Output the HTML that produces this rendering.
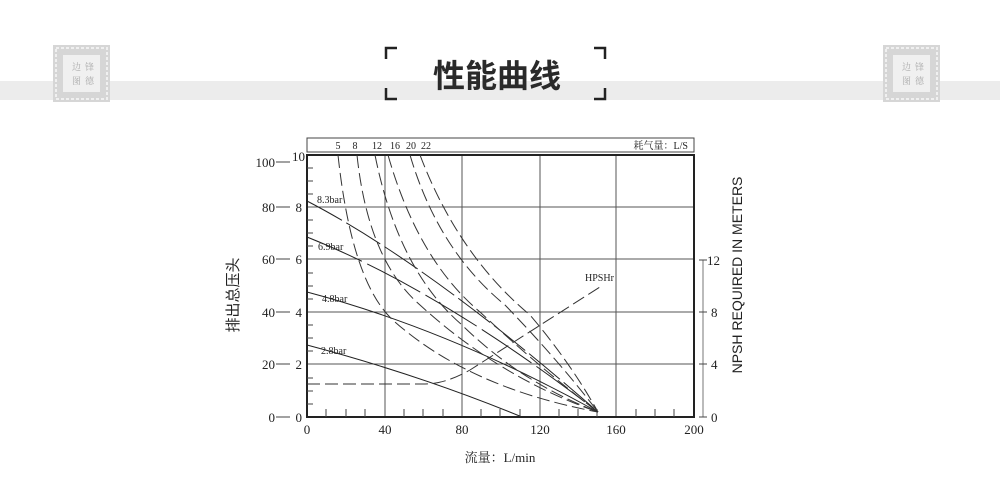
<!DOCTYPE html>
<html><head><meta charset="utf-8"><style>
body{margin:0;background:#fff;width:1000px;height:480px;overflow:hidden}
svg{display:block}
</style></head><body>
<svg width="1000" height="480" xmlns="http://www.w3.org/2000/svg" font-family="'Liberation Serif','Noto Serif CJK SC',serif">
<rect x="0" y="81" width="1000" height="19" fill="#ececec"/>
<g>
<rect x="53" y="45" width="57" height="57" fill="#d6d6d6"/>
<rect x="56" y="48" width="51" height="51" fill="none" stroke="#f0f0f0" stroke-width="2" stroke-dasharray="3 2"/>
<rect x="63" y="55" width="37" height="37" fill="#f0f0f0"/>
<text x="72" y="70" font-size="9" fill="#aaa">边</text><text x="85" y="70" font-size="9" fill="#aaa">锋</text>
<text x="72" y="84" font-size="9" fill="#aaa">图</text><text x="85" y="84" font-size="9" fill="#aaa">德</text>
</g>
<g>
<rect x="883" y="45" width="57" height="57" fill="#d6d6d6"/>
<rect x="886" y="48" width="51" height="51" fill="none" stroke="#f0f0f0" stroke-width="2" stroke-dasharray="3 2"/>
<rect x="893" y="55" width="37" height="37" fill="#f0f0f0"/>
<text x="902" y="70" font-size="9" fill="#aaa">边</text><text x="915" y="70" font-size="9" fill="#aaa">锋</text>
<text x="902" y="84" font-size="9" fill="#aaa">图</text><text x="915" y="84" font-size="9" fill="#aaa">德</text>
</g>
<g stroke="#222" stroke-width="2.5" fill="none">
<path d="M386,59 V48 H397"/><path d="M594,48 H605 V59"/>
<path d="M386,88 V99 H397"/><path d="M594,99 H605 V88"/>
</g>
<text x="497" y="87" font-size="32" font-weight="bold" text-anchor="middle" fill="#2a2a2a" font-family="'Noto Sans CJK SC',sans-serif">性能曲线</text>

<rect x="307" y="138" width="387" height="14" fill="none" stroke="#444" stroke-width="1"/>
<g font-size="10" text-anchor="middle" fill="#222">
<text x="338" y="149">5</text><text x="355" y="149">8</text><text x="377" y="149">12</text><text x="395" y="149">16</text><text x="411" y="149">20</text><text x="426" y="149">22</text>
<text x="688" y="149" text-anchor="end">耗气量：L/S</text>
</g>
<g stroke="#555" stroke-width="1">
<line x1="385" y1="155" x2="385" y2="417"/><line x1="462" y1="155" x2="462" y2="417"/>
<line x1="540" y1="155" x2="540" y2="417"/><line x1="616" y1="155" x2="616" y2="417"/>
<line x1="307" y1="207" x2="694" y2="207"/><line x1="307" y1="259" x2="694" y2="259"/>
<line x1="307" y1="312" x2="694" y2="312"/><line x1="307" y1="364" x2="694" y2="364"/>
</g>
<rect x="307" y="155" width="387" height="262" fill="none" stroke="#222" stroke-width="2"/>
<g stroke="#444" stroke-width="1">
<path d="M326,417v-8M346,417v-8M365,417v-8M404,417v-8M423,417v-8M443,417v-8M481,417v-8M500,417v-8M520,417v-8M559,417v-8M578,417v-8M597,417v-8M636,417v-8M655,417v-8M674,417v-8"/>
<path d="M307,404h6M307,391h6M307,378h6M307,351h6M307,338h6M307,325h6M307,299h6M307,286h6M307,273h6M307,246h6M307,233h6M307,220h6M307,194h6M307,181h6M307,168h6"/>
</g>
<g stroke="#444"><path d="M276,417h14M276,364h14M276,312h14M276,259h14M276,207h14M276,162h14"/></g>
<g font-size="13" text-anchor="end" fill="#222">
<text x="275" y="422">0</text><text x="275" y="369">20</text><text x="275" y="317">40</text><text x="275" y="264">60</text><text x="275" y="212">80</text><text x="275" y="167">100</text>
<text x="302" y="422">0</text><text x="302" y="369">2</text><text x="302" y="317">4</text><text x="302" y="264">6</text><text x="302" y="212">8</text><text x="305" y="161">10</text>
</g>
<g font-size="13" text-anchor="middle" fill="#222">
<text x="307" y="434">0</text><text x="385" y="434">40</text><text x="462" y="434">80</text><text x="540" y="434">120</text><text x="616" y="434">160</text><text x="694" y="434">200</text>
</g>
<line x1="703" y1="260" x2="703" y2="417" stroke="#777"/>
<g stroke="#444"><path d="M699,417h8M699,364h8M699,312h8M699,260h8"/></g>
<g font-size="13" fill="#222">
<text x="711" y="422">0</text><text x="711" y="369">4</text><text x="711" y="317">8</text><text x="707" y="265">12</text>
</g>
<text transform="translate(742,275) rotate(-90)" font-size="14" text-anchor="middle" font-family="'Liberation Sans',sans-serif" fill="#222">NPSH REQUIRED IN METERS</text>
<text transform="translate(238,295) rotate(-90)" font-size="15" text-anchor="middle" fill="#222" font-family="'Noto Sans CJK SC',sans-serif">排出总压头</text>
<text x="500" y="462" font-size="13" text-anchor="middle" fill="#222">流量：L/min</text>

<g fill="none" stroke="#222" stroke-width="1">
<path d="M307,201 Q430,265 598,412" stroke-dasharray="40 5"/>
<path d="M307,237 Q440,290 598,412" stroke-dasharray="60 6"/>
<path d="M307,292 Q450,330 598,412"/>
<path d="M307,345 Q420,375 522,417"/>
</g>
<g font-size="10" fill="#222">
<text x="317" y="203">8.3bar</text><text x="318" y="250">6.9bar</text><text x="322" y="302">4.8bar</text><text x="321" y="354">2.8bar</text>
<text x="585" y="281">HPSHr</text>
</g>
<g fill="none" stroke="#333" stroke-width="1" stroke-dasharray="13 5">
<path d="M338,155 Q352,285 395,322 Q470,388 598,412"/>
<path d="M357,155 Q368,260 420,305 Q500,378 598,412"/>
<path d="M375,155 Q398,270 462,325 Q520,382 598,412"/>
<path d="M388,155 Q418,260 480,312 Q540,368 598,412"/>
<path d="M410,155 Q438,250 505,305 Q560,362 598,412"/>
<path d="M420,155 Q458,255 530,315 Q570,362 598,412"/>
<path d="M307,384 L425,384 Q445,384 470,370 L603,285"/>
</g>
</svg>
</body></html>
